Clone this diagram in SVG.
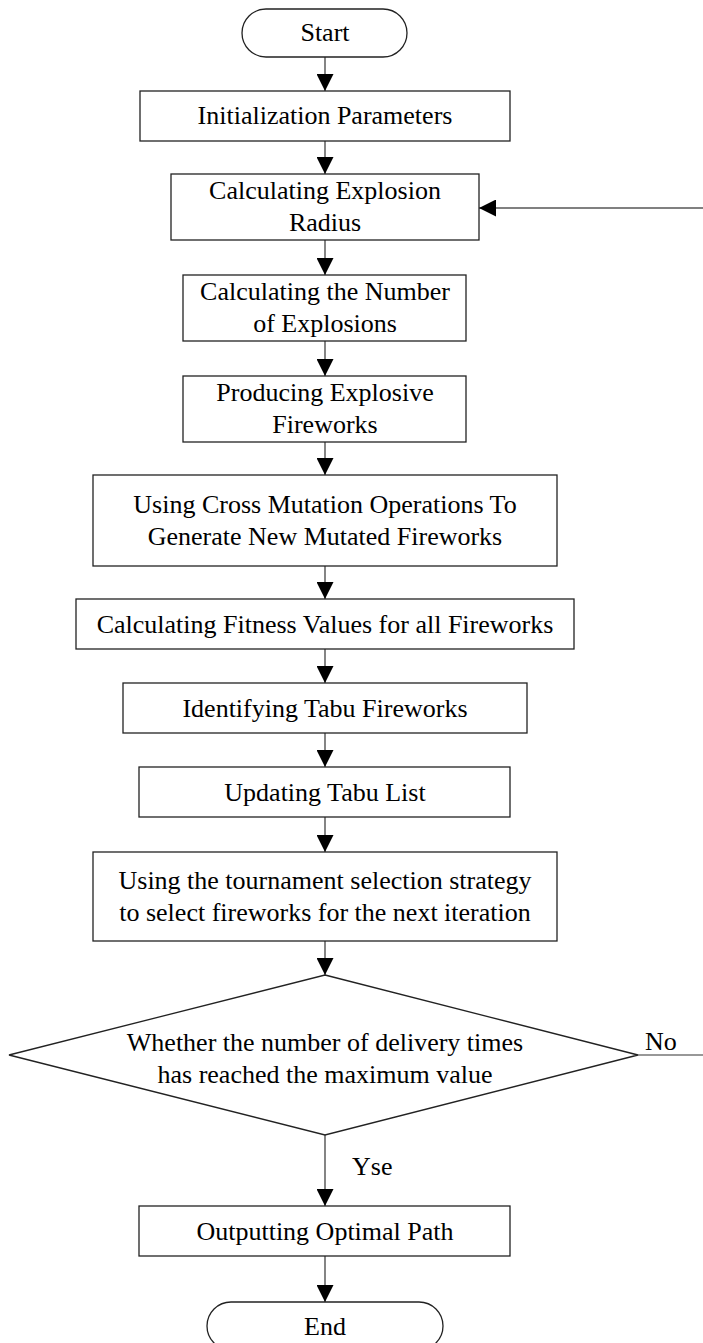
<svg xmlns="http://www.w3.org/2000/svg" width="703" height="1343" viewBox="0 0 703 1343">
  <defs>
    <marker id="ah" viewBox="0 0 17 17" refX="17" refY="8.5" markerWidth="17" markerHeight="17" markerUnits="userSpaceOnUse" orient="auto">
      <path d="M0,0 L17,8.5 L0,17 Z" fill="#000"/>
    </marker>
    <style>
      .box { fill: #fff; stroke: #222; stroke-width: 1.3; }
      .t { font-family: "Liberation Serif", "Times New Roman", serif; font-size: 26px; fill: #000; text-anchor: middle; }
      .lbl { font-family: "Liberation Serif", "Times New Roman", serif; font-size: 26px; fill: #000; }
      .c { fill: none; stroke: #333; stroke-width: 1.2; }
      .fb { fill: none; stroke: #808080; stroke-width: 2; }
    </style>
  </defs>
  <rect width="703" height="1343" fill="#fff"/>

  <g id="connectors">
    <line class="c" x1="325" y1="57" x2="325" y2="91" marker-end="url(#ah)"/>
    <line class="c" x1="325" y1="141" x2="325" y2="174" marker-end="url(#ah)"/>
    <line class="c" x1="325" y1="240" x2="325" y2="275" marker-end="url(#ah)"/>
    <line class="c" x1="325" y1="341" x2="325" y2="376" marker-end="url(#ah)"/>
    <line class="c" x1="325" y1="442" x2="325" y2="475" marker-end="url(#ah)"/>
    <line class="c" x1="325" y1="566" x2="325" y2="599" marker-end="url(#ah)"/>
    <line class="c" x1="325" y1="649" x2="325" y2="683" marker-end="url(#ah)"/>
    <line class="c" x1="325" y1="733" x2="325" y2="767" marker-end="url(#ah)"/>
    <line class="c" x1="325" y1="817" x2="325" y2="852" marker-end="url(#ah)"/>
    <line class="c" x1="325" y1="941" x2="325" y2="975" marker-end="url(#ah)"/>
    <line class="c" x1="325" y1="1135" x2="325" y2="1206" marker-end="url(#ah)"/>
    <line class="c" x1="325" y1="1256" x2="325" y2="1302" marker-end="url(#ah)"/>
    <line class="c" x1="638" y1="1055" x2="703" y2="1055"/>
    <line class="fb" x1="703" y1="208" x2="479" y2="208" marker-end="url(#ah)"/>
    <text class="lbl" x="645" y="1050">No</text>
    <text class="lbl" x="352" y="1175">Yse</text>
  </g>

  <g id="start">
    <rect class="box" x="242" y="9" width="165" height="48" rx="24" ry="24"/>
    <text class="t" x="325" y="41">Start</text>
  </g>
  <g id="init">
    <rect class="box" x="140" y="91" width="370" height="50"/>
    <text class="t" x="325" y="124">Initialization Parameters</text>
  </g>
  <g id="radius">
    <rect class="box" x="171" y="174" width="308" height="66"/>
    <text class="t" x="325" y="199">Calculating Explosion</text>
    <text class="t" x="325" y="231">Radius</text>
  </g>
  <g id="number">
    <rect class="box" x="183" y="275" width="283" height="66"/>
    <text class="t" x="325" y="300">Calculating the Number</text>
    <text class="t" x="325" y="332">of Explosions</text>
  </g>
  <g id="produce">
    <rect class="box" x="183" y="376" width="283" height="66"/>
    <text class="t" x="325" y="401">Producing Explosive</text>
    <text class="t" x="325" y="433">Fireworks</text>
  </g>
  <g id="cross">
    <rect class="box" x="93" y="475" width="464" height="91"/>
    <text class="t" x="325" y="513">Using Cross Mutation Operations To</text>
    <text class="t" x="325" y="545">Generate New Mutated Fireworks</text>
  </g>
  <g id="fitness">
    <rect class="box" x="76" y="599" width="498" height="50"/>
    <text class="t" x="325" y="633">Calculating Fitness Values for all Fireworks</text>
  </g>
  <g id="identify">
    <rect class="box" x="123" y="683" width="404" height="50"/>
    <text class="t" x="325" y="717">Identifying Tabu Fireworks</text>
  </g>
  <g id="update">
    <rect class="box" x="139" y="767" width="371" height="50"/>
    <text class="t" x="325" y="801">Updating Tabu List</text>
  </g>
  <g id="tournament">
    <rect class="box" x="93" y="852" width="464" height="89"/>
    <text class="t" x="325" y="889">Using the tournament selection strategy</text>
    <text class="t" x="325" y="921">to select fireworks for the next iteration</text>
  </g>
  <g id="decision">
    <polygon class="box" points="325,975 638,1055 325,1135 9,1055"/>
    <text class="t" x="325" y="1051">Whether the number of delivery times</text>
    <text class="t" x="325" y="1083">has reached the maximum value</text>
  </g>
  <g id="output">
    <rect class="box" x="139" y="1206" width="371" height="50"/>
    <text class="t" x="325" y="1240">Outputting Optimal Path</text>
  </g>
  <g id="end">
    <rect class="box" x="207" y="1302" width="236" height="48" rx="24" ry="24"/>
    <text class="t" x="325" y="1335">End</text>
  </g>
</svg>
